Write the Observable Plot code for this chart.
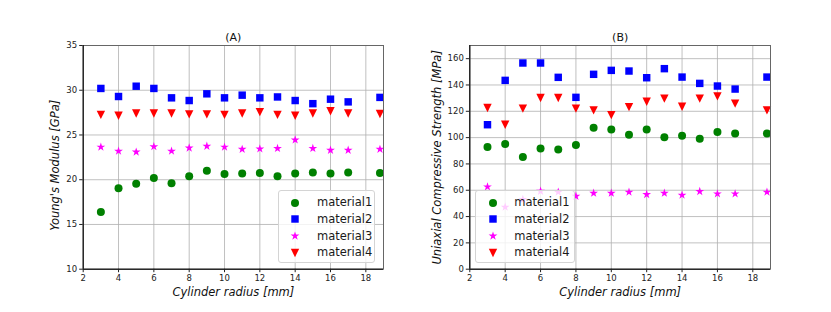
<!DOCTYPE html>
<html><head><meta charset="utf-8">
<script src="https://cdn.jsdelivr.net/npm/d3@7"></script>
<script src="https://cdn.jsdelivr.net/npm/@observablehq/plot@0.6"></script>
<style>
body{margin:0;background:#fff;}
#wrap{position:relative;width:831px;height:312px;font-family:"DejaVu Sans";overflow:hidden;}
.panel{position:absolute;top:0;}
.legend{position:absolute;background:rgba(255,255,255,0.8);border:1px solid #d4d4d4;border-radius:3px;box-sizing:border-box;}
.legend span{position:absolute;font-size:11.5px;color:#1a1a1a;white-space:nowrap;line-height:16px;top:0;}
</style></head><body><div id="wrap"></div>
<script>
// ---- data ----
const radius = [3,4,5,6,7,8,9,10,11,12,13,14,15,16,17,18.8];
const materials = ["material1","material2","material3","material4"];
const colors = ["#008000","#0000ff","#ff00ff","#ff0000"];

const youngM1 = [16.4,19.05,19.55,20.2,19.6,20.4,21.0,20.65,20.7,20.75,20.4,20.7,20.8,20.7,20.8,20.75];
const youngM2 = [30.2,29.3,30.45,30.2,29.15,28.85,29.6,29.15,29.45,29.15,29.25,28.85,28.5,29.0,28.7,29.2];
const youngM3 = [23.65,23.2,23.1,23.7,23.2,23.55,23.75,23.65,23.4,23.45,23.5,24.45,23.5,23.3,23.3,23.4];
const youngM4 = [27.25,27.15,27.4,27.4,27.4,27.3,27.3,27.25,27.4,27.55,27.25,27.15,27.4,27.65,27.4,27.35];

const ucsM1 = [92.8,95.1,85.2,91.8,91.0,94.3,107.5,106.2,102.2,106.2,100.2,101.4,99.1,104.2,103.2,103.2];
const ucsM2 = [109.8,143.5,156.7,156.7,145.8,130.6,148.1,151.1,150.6,145.5,152.4,146.0,141.2,139.2,136.9,146.0];
const ucsM3 = [62.6,47.2,53,59.3,58.6,55.5,57.8,57.8,58.6,56.8,57.8,56.3,59.1,57.3,57.3,58.6];
const ucsM4 = [122.5,109.8,122,130.1,130.1,122,120.7,117.1,123.2,127.3,129.6,123.5,129.6,131.3,125.8,120.7];

const xDomain = [2,19];
const xTicks = [2,4,6,8,10,12,14,16,18];
const youngDomain = [10,35];
const youngTicks = [10,15,20,25,30,35];
const ucsDomain = [0,170];
const ucsTicks = [0,20,40,60,80,100,120,140,160];

// ---- symbols ----
const triangleDown = {draw(ctx, size){const w = Math.sqrt(size/Math.PI); ctx.moveTo(-w,-w); ctx.lineTo(w,-w); ctx.lineTo(0,w); ctx.closePath();}};
const symbols = [d3.symbolCircle, d3.symbolSquare, d3.symbolStar, triangleDown];
const radii = [4.0, 4.2, 2.75, 4.2];

function buildPanel(series, opts){
  const marks = [
    Plot.gridX(xTicks, {stroke:"#b0b0b0", strokeOpacity:1, strokeWidth:0.8}),
    Plot.gridY(opts.yTicks, {stroke:"#b0b0b0", strokeOpacity:1, strokeWidth:0.8})
  ];
  series.forEach((vals, i) => {
    const rows = radius.map((x, j) => ({x, y: vals[j], m: materials[i]}));
    marks.push(Plot.dot(rows, {x:"x", y:"y", r: radii[i], symbol: symbols[i], fill: colors[i], stroke: "none"}));
  });
  marks.push(
    Plot.frame({stroke:"#666", strokeWidth:1}),
    Plot.ruleX([xDomain[0]], {stroke:"#000", strokeWidth:1}),
    Plot.ruleY([opts.yDomain[0]], {stroke:"#000", strokeWidth:1}),
    Plot.axisX({ticks: xTicks, tickSize: 3.5, tickPadding: 2, label: null, fontSize: 8.5}),
    Plot.axisY({ticks: opts.yTicks, tickSize: 3.5, tickPadding: 2.5, label: null, fontSize: 8.5}),
    Plot.text([opts.title], {text: d => d, frameAnchor: "top", lineAnchor: "middle", dy: -8.5, fontSize: 11, fill: "#111"}),
    Plot.text(["Cylinder radius [mm]"], {text: d => d, frameAnchor: "bottom", lineAnchor: "middle", dy: 23, fontSize: 11.5, fontStyle: "italic", fill: "#111"}),
    Plot.text([opts.ylabel], {text: d => d, frameAnchor: "left", textAnchor: "middle", lineAnchor: "middle", rotate: -90, dx: opts.ylabelDx, dy: opts.ylabelDy, fontSize: 11.5, fontStyle: "italic", fill: "#111"})
  );
  return Plot.plot({
    width: opts.width, height: 312,
    marginLeft: opts.ml, marginRight: opts.mr, marginTop: 45, marginBottom: 43.3,
    x: {domain: xDomain},
    y: {domain: opts.yDomain},
    style: {fontFamily: "DejaVu Sans", fontSize: "8.5px", color: "#222", background: "transparent", overflow: "visible"},
    marks
  });
}

function buildLegend(left, top, w, h, markerX, textX){
  const div = document.createElement("div");
  div.className = "legend";
  Object.assign(div.style, {left: left+"px", top: top+"px", width: w+"px", height: h+"px"});
  const rowCenters = [11.7, 28.4, 45.1, 61.8];
  materials.forEach((name, i) => {
    const svg = d3.create("svg").attr("width", 16).attr("height", 16)
      .style("position","absolute").style("left",(markerX-8)+"px").style("top",(rowCenters[i]-8)+"px");
    svg.append("path").attr("transform","translate(8,8)")
      .attr("d", d3.symbol(symbols[i], Math.PI*radii[i]*radii[i])()).attr("fill", colors[i]);
    div.appendChild(svg.node());
    const span = document.createElement("span");
    span.textContent = name;
    span.style.left = textX + "px";
    span.style.top = (rowCenters[i]-8.5) + "px";
    div.appendChild(span);
  });
  return div;
}

const wrap = document.getElementById("wrap");

const pA = buildPanel([youngM1, youngM2, youngM3, youngM4], {
  width: 410, ml: 82.7, mr: 27, yDomain: youngDomain, yTicks: youngTicks,
  title: "(A)", ylabel: "Young's Modulus [GPa]", ylabelDx: -28, ylabelDy: 8
});
pA.classList.add("panel"); pA.style.left = "0px";
wrap.appendChild(pA);

const pB = buildPanel([ucsM1, ucsM2, ucsM3, ucsM4], {
  width: 416, ml: 54.3, mr: 61, yDomain: ucsDomain, yTicks: ucsTicks,
  title: "(B)", ylabel: "Uniaxial Compressive Strength [MPa]", ylabelDx: -32, ylabelDy: 0
});
pB.classList.add("panel"); pB.style.left = "415px";
wrap.appendChild(pB);

wrap.appendChild(buildLegend(278, 190, 97, 73, 16, 38));
wrap.appendChild(buildLegend(475, 190, 100, 73, 16.7, 38.3));
</script>
</body></html>
